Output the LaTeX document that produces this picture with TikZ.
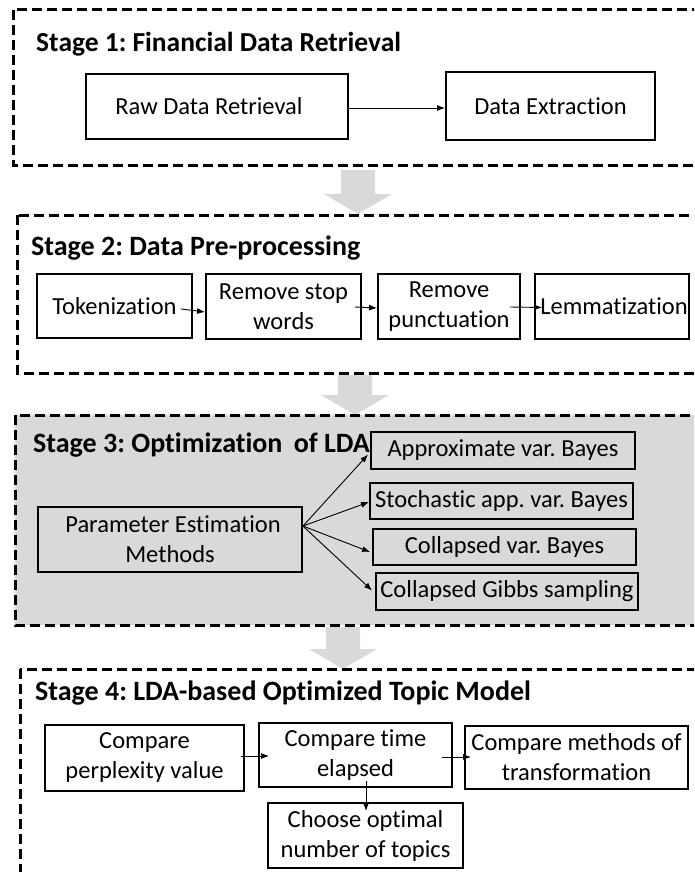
\documentclass[tikz,border=0pt]{standalone}
\usepackage{fontspec}
\setmainfont{Carlito}[Ligatures=NoCommon]
\usetikzlibrary{arrows.meta,calc}
\definecolor{stagegray}{RGB}{217,217,217}
\definecolor{arrowgray}{RGB}{217,217,217}
\frenchspacing
\begin{document}
\begin{tikzpicture}[x=1pt,y=-1pt,
  stagebox/.style={draw=black, line width=3pt, dash pattern=on 10pt off 5pt},
  procbox/.style={draw=black, line width=1.9pt, align=center, inner sep=0pt,
    font=\fontsize{24.5}{30}\selectfont},
  stagetitle/.style={anchor=base west, inner sep=0pt,
    font=\fontsize{27.5}{33}\selectfont\bfseries},
  bigtitle/.style={stagetitle, font=\fontsize{28}{34}\selectfont\bfseries},
  link/.style={line width=0.9pt, -{Latex[length=8pt,width=6pt]}},
  blockarrow/.style={fill=arrowgray, draw=none}
]
\useasboundingbox (0,0) rectangle (694,872);
\clip (0,0) rectangle (694,872);

% ---- gray block arrows between stages
\coordinate (g1) at (358,170);
\coordinate (g2) at (355,375);
\coordinate (g3) at (343,627);
\foreach \g/\len in {g1/44, g2/40, g3/42}{
  \fill[blockarrow] ($(\g)+(-17,0)$) -- ($(\g)+(17,0)$) -- ($(\g)+(17,\len-20)$)
    -- ($(\g)+(34,\len-20)$) -- ($(\g)+(0,\len)$) -- ($(\g)+(-34,\len-20)$)
    -- ($(\g)+(-17,\len-20)$) -- cycle;
}

% ---- stage frames
\draw[stagebox] (13,10) rectangle (720,165);
\draw[stagebox] (17,215) rectangle (720,373);
\draw[stagebox, fill=stagegray] (15,415) rectangle (720,625);
\draw[stagebox] (20,669) rectangle (720,900);

% ---- titles
\node[stagetitle] (t1) at (36,52) {Stage 1: Financial Data Retrieval};
\node[bigtitle] (t2) at (31,255) {Stage 2: Data Pre-processing};
\node[bigtitle] (t3) at (33,452) {Stage 3: Optimization\hspace{5pt} of LDA};
\node[bigtitle] (t4) at (35,700) {Stage 4: LDA-based Optimized Topic Model};

% ---- stage 1
\node[procbox, minimum width=262, minimum height=65] (raw) at (217,106.5) {Raw Data Retrieval\hspace{16pt}};
\node[procbox, minimum width=209, minimum height=68] (ext) at (550.5,106) {Data Extraction};
\draw[link] ($(raw.east)+(0,1.5)$) -- ($(ext.west)+(0,2)$);

% ---- stage 2
\node[procbox, minimum width=155, minimum height=64] (tok) at (114.5,306) {Tokenization};
\node[procbox, minimum width=155, minimum height=65] (stop) at (283.5,306.5) {Remove stop\\words};
\node[procbox, minimum width=142, minimum height=65] (punct) at (449,306.5) {Remove\\punctuation};
\node[procbox, minimum width=154, minimum height=65] (lemma) at (612,306.5) {\hspace{4pt}Lemmatization};
\draw[link] ($(tok.east)+(-12,3)$) -- ($(stop.west)+(0,5.5)$);
\draw[link] ($(stop.east)+(-7,0.5)$) -- ($(punct.west)+(0,1.5)$);
\draw[link] ($(punct.east)+(-11,0.5)$) -- ($(lemma.west)+(8,1)$);

% ---- stage 3
\node[procbox, minimum width=264, minimum height=65] (pem) at (170,539.5) {\hspace{6pt}Parameter Estimation\\Methods};
\node[procbox, minimum width=264, minimum height=37] (avb) at (503,450.5) {Approximate var. Bayes};
\node[procbox, minimum width=263, minimum height=36] (savb) at (501.5,501) {Stochastic app. var. Bayes};
\node[procbox, minimum width=263, minimum height=36] (cvb) at (504.5,547) {Collapsed var. Bayes};
\node[procbox, minimum width=262, minimum height=37] (cgs) at (507,591.5) {Collapsed Gibbs sampling};
\coordinate (fan) at ($(pem.north east)+(0,20)$);
\draw[link] (fan) -- ($(avb.west)+(-2,4)$);
\draw[link] (fan) -- ($(savb.west)+(0,1)$);
\draw[link] (fan) -- ($(cvb.west)+(-2,5)$);
\draw[link] (fan) -- ($(cgs.west)+(-3,-1)$);

% ---- stage 4
\node[procbox, minimum width=199, minimum height=66] (cpv) at (144.5,758) {Compare\\perplexity value};
\node[procbox, minimum width=193, minimum height=64] (cte) at (355.5,755) {Compare time\\elapsed};
\node[procbox, minimum width=223, minimum height=63] (cmt) at (576.5,757.5) {Compare methods of\\transformation};
\node[procbox, minimum width=195, minimum height=65] (cho) at (365.5,835.5) {Choose optimal\\number of topics};
\draw[link] ($(cpv.east)+(-4,-2)$) -- ($(cte.west)+(11,1)$);
\draw[link] ($(cte.east)+(-11,2)$) -- ($(cmt.west)+(7,-0.5)$);
\draw[link] ($(cte.south)+(10.5,-7)$) -- ($(cho.north)+(0.5,9)$);
\end{tikzpicture}
\end{document}
